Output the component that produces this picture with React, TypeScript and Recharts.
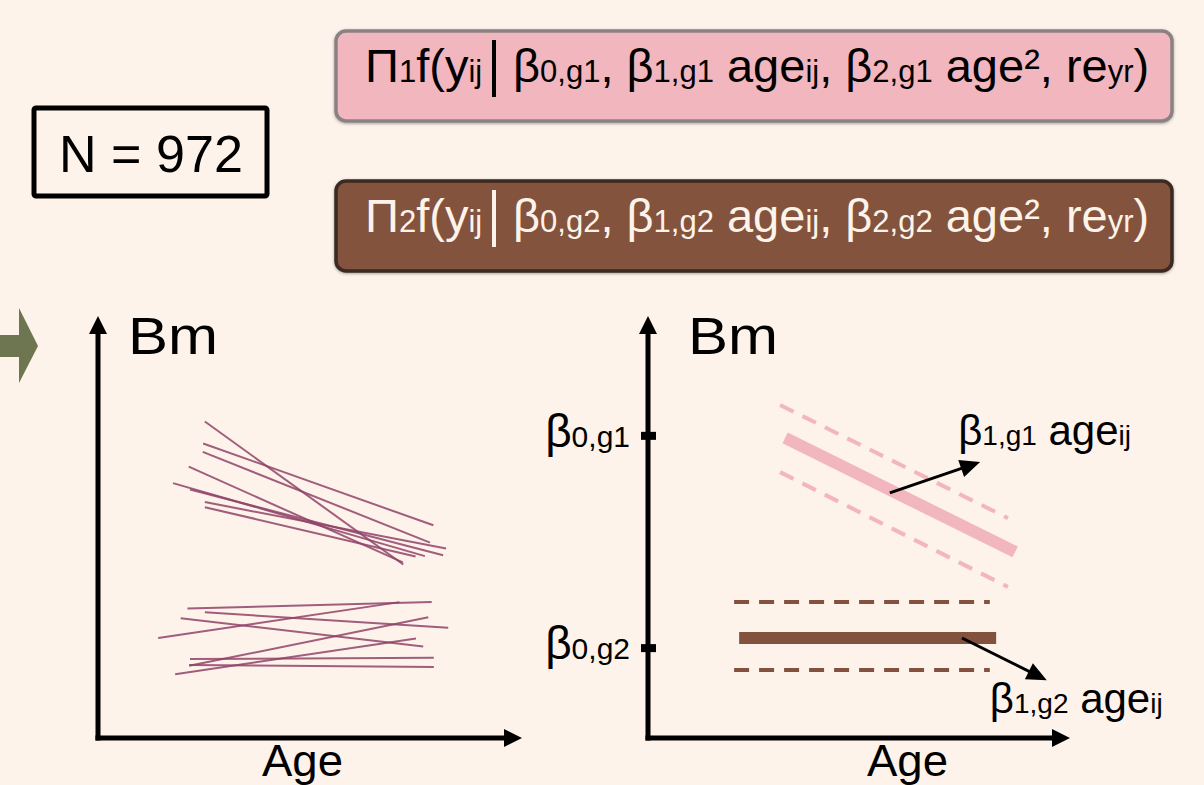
import React from "react";
import { LineChart, Line, XAxis, YAxis, ReferenceLine, ReferenceDot } from "recharts";

const FONT = '"Liberation Sans", Arial, sans-serif';
const BG = "#fef3eb";
const PINK = "#f2b6bf";
const BROWN = "#83523e";
const TRAJ = "#8f4368";

// left panel: individual Bm trajectories, start -> end (age, Bm)
const trajAgeFrom = [2.52, 2.48, 2.47, 2.14, 1.77, 2.17, 2.52, 2.52, 2.11, 1.42, 2.52, 1.95, 2.15, 1.82, 2.17, 2.15];
const trajAgeTo = [7.2, 7.91, 7.83, 7.19, 7.71, 8.14, 8.21, 7.49, 7.87, 7.11, 8.26, 7.67, 7.79, 7.5, 7.92, 7.92];
const trajBmFrom = [7.5, 6.98, 6.78, 6.43, 6.04, 5.89, 5.59, 5.47, 3.07, 2.37, 2.98, 2.84, 1.71, 1.51, 1.87, 1.73];
const trajBmTo = [4.11, 5.04, 4.63, 4.16, 4.31, 4.33, 4.49, 4.3, 3.22, 3.22, 2.61, 2.17, 2.86, 2.36, 1.9, 1.68];

// right panel: group mean lines with dashed bands
const groups = ["g1", "g2"];
const groupColors = [PINK, BROWN];
const meanAgeFrom = [3.25, 2.16];
const meanAgeTo = [8.7, 8.25];
const meanBmFrom = [7.11, 2.37];
const meanBmTo = [4.41, 2.37];
const bandAgeFrom = [3.13, 2.04];
const bandAgeTo = [8.53, 8.1];
const bandUpperFrom = [7.89, 3.22];
const bandUpperTo = [5.21, 3.22];
const bandLowerFrom = [6.3, 1.61];
const bandLowerTo = [3.58, 1.61];
const interceptTicks = [7.16, 2.13];
const slopeArrowAgeFrom = [5.73, 7.44];
const slopeArrowAgeTo = [7.87, 9.45];
const slopeArrowBmFrom = [5.81, 2.37];
const slopeArrowBmTo = [6.54, 1.37];

// where the slope labels sit (age, Bm units)
const slopeLabelAge = [7.35, 8.1];
const slopeLabelBm = [6.94, 0.59];

const PX = 42.2; // px per unit, both panels

const seg = (a1: number, b1: number, a2: number, b2: number) => [
  { age: a1, bm: b1 },
  { age: a2, bm: b2 },
];

const head = (angle: number, len = 18, hw = 9) => (p: any) => {
  const { cx, cy } = p;
  return (
    <polygon
      points={`${cx},${cy} ${cx - len},${cy - hw} ${cx - len},${cy + hw}`}
      transform={`rotate(${angle} ${cx} ${cy})`}
      fill="#000"
    />
  );
};

function Axes() {
  return [
    <ReferenceLine key="ax" ifOverflow="visible" stroke="#000" strokeWidth={5}
      segment={[{ x: -0.06, y: 0 }, { x: 9.6, y: 0 }]} />,
    <ReferenceLine key="ay" ifOverflow="visible" stroke="#000" strokeWidth={5}
      segment={[{ x: 0, y: -0.06 }, { x: 0, y: 9.6 }]} />,
    <ReferenceDot key="hx" x={10} y={0} ifOverflow="visible" shape={head(0)} />,
    <ReferenceDot key="hy" x={0} y={10} ifOverflow="visible" shape={head(-90)} />,
  ];
}

function InterceptTick(props: any) {
  const { x, y, payload } = props;
  const i = interceptTicks.indexOf(payload.value);
  return (
    <g>
      <rect x={x - 7} y={y - 4} width={15} height={8} fill="#000" />
      <text x={x - 18} y={y + 11} textAnchor="end" fontFamily={FONT} fontSize={46} fill="#000">
        β<tspan fontSize={30}>{`0,${groups[i]}`}</tspan>
      </text>
    </g>
  );
}

const slopeLabel = (i: number) => (p: any) => (
  <text x={p.cx} y={p.cy} fontFamily={FONT} fontSize={42} fill="#000">
    β<tspan fontSize={28}>{`1,${groups[i]}`}</tspan>
    {" age"}
    <tspan fontSize={28}>ij</tspan>
  </text>
);

function Formula({ idx, top, fill, stroke, ink }: { idx: number; top: number; fill: string; stroke: string; ink: string }) {
  const g = groups[idx];
  const base = top + 51;
  return (
    <g fontFamily={FONT} fill={ink}>
      <rect x={336} y={top} width={836} height={90} rx={10} fill={fill} stroke={stroke} strokeWidth={3.5} filter="url(#sh)" />
      <text x={365} y={base} fontSize={47}>
        Π<tspan fontSize={31}>{idx + 1}</tspan>f(y<tspan fontSize={31}>ij</tspan>
      </text>
      <line x1={494} x2={494} y1={base - 42} y2={base + 15} stroke={ink} strokeWidth={4} />
      <text x={513} y={base} fontSize={47}>
        β<tspan fontSize={31}>{`0,${g}`}</tspan>
        {", β"}
        <tspan fontSize={31}>{`1,${g}`}</tspan>
        {" age"}
        <tspan fontSize={31}>ij</tspan>
        {", β"}
        <tspan fontSize={31}>{`2,${g}`}</tspan>
        {" age², re"}
        <tspan fontSize={31}>yr</tspan>
        {")"}
      </text>
    </g>
  );
}

export default function App() {
  const ang = (i: number) =>
    (Math.atan2(-(slopeArrowBmTo[i] - slopeArrowBmFrom[i]) * PX, (slopeArrowAgeTo[i] - slopeArrowAgeFrom[i]) * PX) * 180) / Math.PI;

  return (
    <div style={{ position: "absolute", left: 0, top: 0, width: 1204, height: 785, background: BG, overflow: "hidden" }}>
      <svg width={1204} height={785} style={{ position: "absolute", left: 0, top: 0 }}>
        <defs>
          <filter id="sh" x="-5%" y="-20%" width="110%" height="140%">
            <feDropShadow dx={0} dy={1} stdDeviation={1.5} floodColor="#000" floodOpacity={0.35} />
          </filter>
        </defs>
        <Formula idx={0} top={31} fill={PINK} stroke="#8a8282" ink="#000" />
        <Formula idx={1} top={181} fill={BROWN} stroke="#3b2a22" ink="#fdf3ea" />
        <rect x={34} y={108} width={233} height={88} rx={2} fill="none" stroke="#000" strokeWidth={5} />
        <text x={59} y={172} fontFamily={FONT} fontSize={52} textLength={184} lengthAdjust="spacingAndGlyphs">N = 972</text>
        <polygon points="0,335 19,335 19,308 38,346 19,383 19,357 0,357" fill="#6d7650" />
        <text x={128} y={354} fontFamily={FONT} fontSize={51} textLength={90} lengthAdjust="spacingAndGlyphs">Bm</text>
        <text x={688} y={354} fontFamily={FONT} fontSize={51} textLength={90} lengthAdjust="spacingAndGlyphs">Bm</text>
        <text x={262} y={776} fontFamily={FONT} fontSize={44} textLength={81} lengthAdjust="spacingAndGlyphs">Age</text>
        <text x={867} y={776} fontFamily={FONT} fontSize={44} textLength={81} lengthAdjust="spacingAndGlyphs">Age</text>
      </svg>

      <div style={{ position: "absolute", left: 68, top: 286 }}>
        <LineChart width={484} height={482} margin={{ top: 30, right: 30, bottom: 30, left: 30 }}>
          <XAxis dataKey="age" type="number" domain={[0, 10]} hide />
          <YAxis type="number" domain={[0, 10]} hide />
          {Axes()}
          {trajAgeFrom.map((a, i) => (
            <Line key={i} data={seg(a, trajBmFrom[i], trajAgeTo[i], trajBmTo[i])} dataKey="bm" type="linear"
              stroke={TRAJ} strokeWidth={2} strokeOpacity={0.85} dot={false} activeDot={false} isAnimationActive={false} />
          ))}
        </LineChart>
      </div>

      <div style={{ position: "absolute", left: 528, top: 286 }}>
        <LineChart width={672} height={482} margin={{ top: 30, right: 130, bottom: 30, left: 0 }}>
          <XAxis dataKey="age" type="number" domain={[0, 10]} hide />
          <YAxis type="number" domain={[0, 10]} width={120} ticks={interceptTicks} interval={0}
            axisLine={false} tickLine={false} tickSize={0} tickMargin={0} tick={<InterceptTick />} />
          {Axes()}
          {groups.map((g, i) => (
            <Line key={`u${g}`} data={seg(bandAgeFrom[i], bandUpperFrom[i], bandAgeTo[i], bandUpperTo[i])} dataKey="bm"
              type="linear" stroke={groupColors[i]} strokeWidth={4} strokeDasharray="15 10" dot={false} activeDot={false} isAnimationActive={false} />
          ))}
          {groups.map((g, i) => (
            <Line key={`l${g}`} data={seg(bandAgeFrom[i], bandLowerFrom[i], bandAgeTo[i], bandLowerTo[i])} dataKey="bm"
              type="linear" stroke={groupColors[i]} strokeWidth={4} strokeDasharray="15 10" dot={false} activeDot={false} isAnimationActive={false} />
          ))}
          {groups.map((g, i) => (
            <Line key={`m${g}`} data={seg(meanAgeFrom[i], meanBmFrom[i], meanAgeTo[i], meanBmTo[i])} dataKey="bm"
              type="linear" stroke={groupColors[i]} strokeWidth={12} dot={false} activeDot={false} isAnimationActive={false} />
          ))}
          {groups.map((g, i) => (
            <Line key={`a${g}`} data={seg(slopeArrowAgeFrom[i], slopeArrowBmFrom[i], slopeArrowAgeTo[i] - 0.3 * Math.cos((ang(i) * Math.PI) / 180), slopeArrowBmTo[i] + 0.3 * Math.sin((ang(i) * Math.PI) / 180))}
              dataKey="bm" type="linear" stroke="#000" strokeWidth={3} dot={false} activeDot={false} isAnimationActive={false} />
          ))}
          {groups.map((g, i) => (
            <ReferenceDot key={`h${g}`} x={slopeArrowAgeTo[i]} y={slopeArrowBmTo[i]} ifOverflow="visible" shape={head(ang(i), 20, 9)} />
          ))}
          {groups.map((g, i) => (
            <ReferenceDot key={`t${g}`} x={slopeLabelAge[i]} y={slopeLabelBm[i]} ifOverflow="visible" shape={slopeLabel(i)} />
          ))}
        </LineChart>
      </div>
    </div>
  );
}
